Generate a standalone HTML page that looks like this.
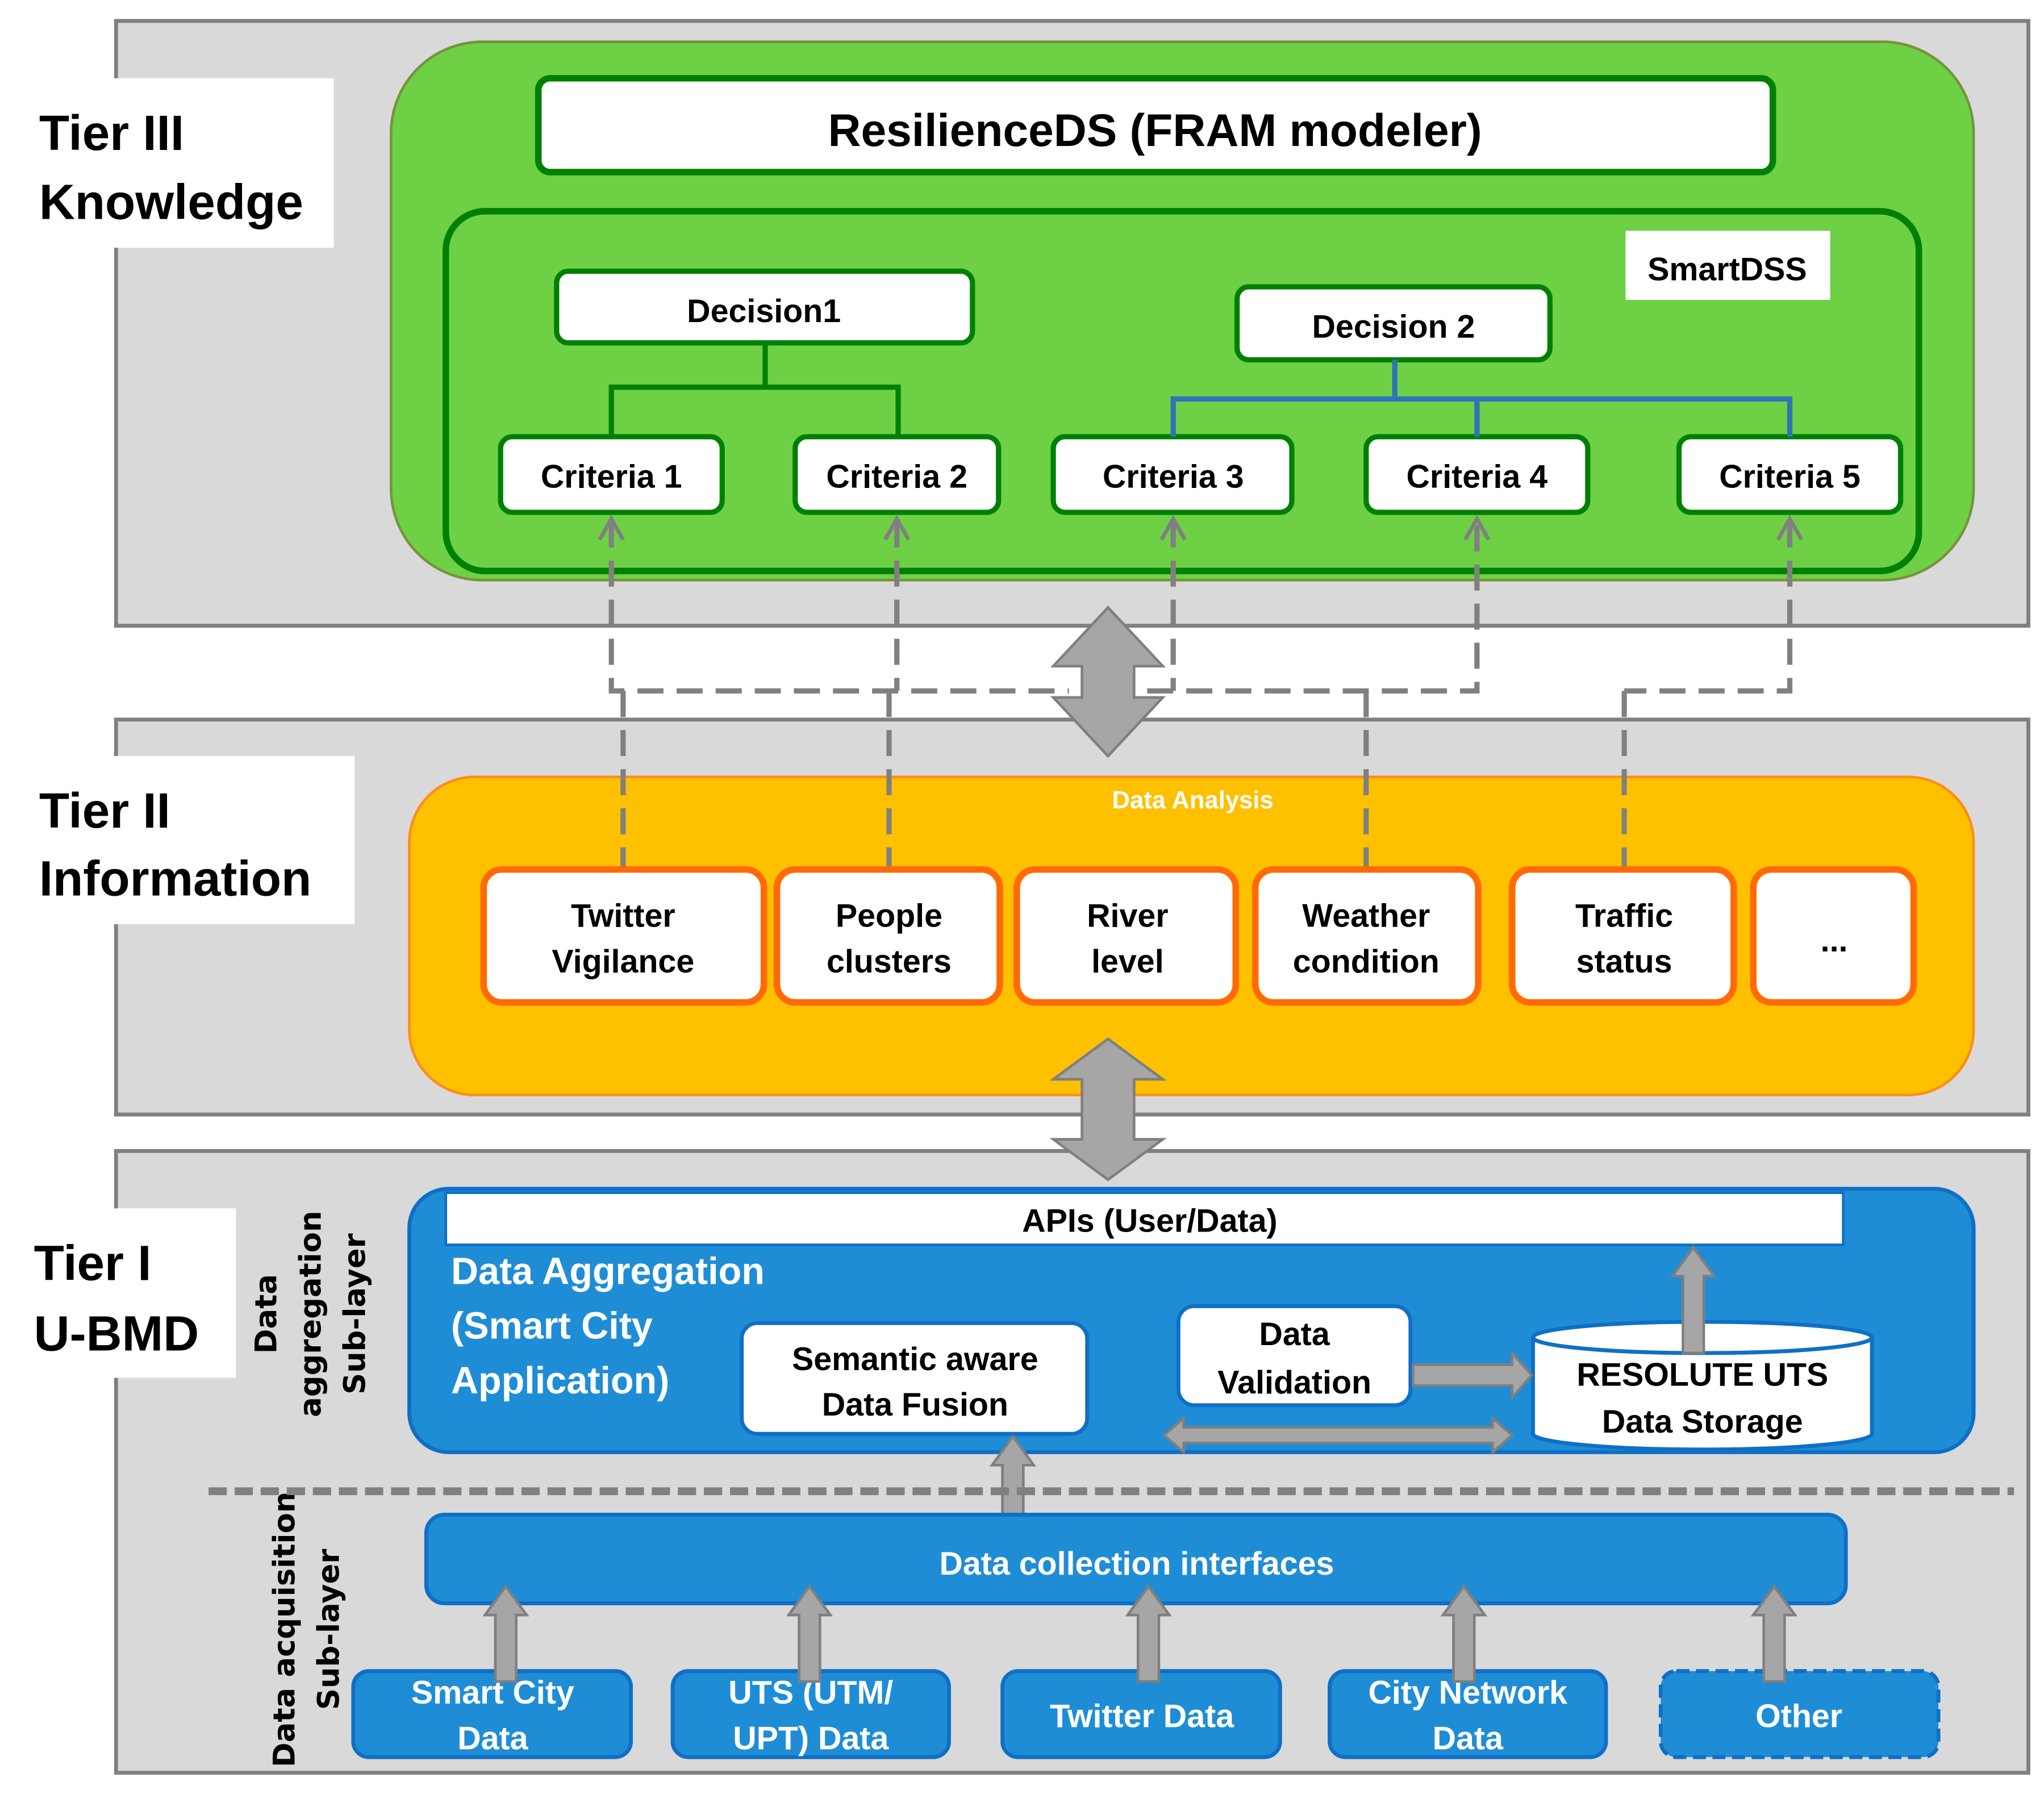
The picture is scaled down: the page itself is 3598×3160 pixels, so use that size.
<!DOCTYPE html>
<html><head><meta charset="utf-8"><style>html,body{margin:0;padding:0;background:#fff}svg{display:block}text{font-family:"Liberation Sans",sans-serif;font-weight:bold}</style></head><body>
<svg width="3598" height="3160" viewBox="0 0 1568 1377" xmlns="http://www.w3.org/2000/svg">
<rect x="89" y="16" width="1467" height="464" fill="#d9d9d9" stroke="#808080" stroke-width="3"/>
<rect x="89" y="552" width="1467" height="303" fill="#d9d9d9" stroke="#808080" stroke-width="3"/>
<rect x="89" y="883" width="1467" height="477" fill="#d9d9d9" stroke="#808080" stroke-width="3"/>
<rect x="18" y="60" width="238" height="130" fill="#fff"/>
<text x="30" y="115" font-size="38" fill="#000">Tier III</text>
<text x="30" y="168" font-size="38" fill="#000">Knowledge</text>
<rect x="18" y="580" width="254" height="129" fill="#fff"/>
<text x="30" y="635" font-size="38">Tier II</text>
<text x="30" y="687" font-size="38">Information</text>
<rect x="18" y="927" width="163" height="130" fill="#fff"/>
<text x="26" y="982" font-size="38">Tier I</text>
<text x="26" y="1036" font-size="38">U-BMD</text>
<rect x="300" y="32" width="1214" height="413" rx="70" fill="#6ed044" stroke="#77933c" stroke-width="2"/>
<rect x="413" y="60" width="947" height="72" rx="9" fill="#fff" stroke="#008000" stroke-width="5"/>
<text x="886" y="112" font-size="35" text-anchor="middle">ResilienceDS (FRAM modeler)</text>
<rect x="342" y="162" width="1130" height="276" rx="30" fill="#6ed044" stroke="#008000" stroke-width="5"/>
<rect x="1247" y="177" width="157" height="53" fill="#fff"/>
<text x="1325" y="215" font-size="25" text-anchor="middle">SmartDSS</text>
<g fill="#fff" stroke="#008000" stroke-width="4">
<rect x="427" y="208" width="319" height="55" rx="9"/>
<rect x="949" y="220" width="240" height="56" rx="9"/>
<rect x="384" y="335" width="170" height="58" rx="9"/>
<rect x="610" y="335" width="156" height="58" rx="9"/>
<rect x="808" y="335" width="183" height="58" rx="9"/>
<rect x="1048" y="335" width="170" height="58" rx="9"/>
<rect x="1288" y="335" width="170" height="58" rx="9"/>
</g>
<g font-size="25" text-anchor="middle">
<text x="586" y="247">Decision1</text>
<text x="1069" y="259">Decision 2</text>
<text x="469" y="374">Criteria 1</text>
<text x="688" y="374">Criteria 2</text>
<text x="900" y="374">Criteria 3</text>
<text x="1133" y="374">Criteria 4</text>
<text x="1373" y="374">Criteria 5</text>
</g>
<path d="M587 263V297M469 335V297H689V335" fill="none" stroke="#008000" stroke-width="4"/>
<path d="M1070 276V306M900 335V306H1373V335M1133 306V335" fill="none" stroke="#2e75b6" stroke-width="4"/>
<!-- Tier II -->
<rect x="314" y="596" width="1200" height="244" rx="50" fill="#ffc000" stroke="#ff8c1a" stroke-width="2"/>
<text x="915" y="620" font-size="19" fill="#fff" text-anchor="middle">Data Analysis</text>
<!-- dashed -->
<g fill="none" stroke="#808080" stroke-width="4" stroke-dasharray="20 10">
<path d="M469 400V530H820"/>
<path d="M688 400V530"/>
<path d="M880 530H1133V400"/>
<path d="M900 400V530"/>
<path d="M1373 400V530H1246"/>
<path d="M478 530V667M682 530V667M1048 530V667M1246 530V667"/>
</g>
<g fill="none" stroke="#808080" stroke-width="3">
<path d="M460 414L469 398L478 414M679 414L688 398L697 414M891 414L900 398L909 414M1124 414L1133 398L1142 414M1364 414L1373 398L1382 414"/>
</g>
<g fill="#fff" stroke="#ff6a00" stroke-width="5">
<rect x="371" y="667" width="215" height="102" rx="14"/>
<rect x="596" y="667" width="171" height="102" rx="14"/>
<rect x="780" y="667" width="168" height="102" rx="14"/>
<rect x="963" y="667" width="171" height="102" rx="14"/>
<rect x="1160" y="667" width="170" height="102" rx="14"/>
<rect x="1345" y="667" width="123" height="102" rx="14"/>
</g>
<g font-size="25" text-anchor="middle">
<text x="478" y="711">Twitter</text><text x="478" y="746">Vigilance</text>
<text x="682" y="711">People</text><text x="682" y="746">clusters</text>
<text x="865" y="711">River</text><text x="865" y="746">level</text>
<text x="1048" y="711">Weather</text><text x="1048" y="746">condition</text>
<text x="1246" y="711">Traffic</text><text x="1246" y="746">status</text>
<text x="1407" y="730">...</text>
</g>
<g fill="#a6a6a6" stroke="#7f7f7f" stroke-width="2">
<path d="M850 466L892 511H870V535H892L850 580L808 535H830V511H808Z"/>
<path d="M850 797L892 828H870V874H892L850 905L808 874H830V828H808Z"/>
</g>
<!-- Tier I -->
<g font-size="23" fill="#000">
<text transform="translate(212,1008) rotate(-90)" text-anchor="middle" style="font-family:'DejaVu Sans',sans-serif">Data</text>
<text transform="translate(246,1008) rotate(-90)" text-anchor="middle" style="font-family:'DejaVu Sans',sans-serif">aggregation</text>
<text transform="translate(280,1008) rotate(-90)" text-anchor="middle" style="font-family:'DejaVu Sans',sans-serif">Sub-layer</text>
<text transform="translate(226,1250) rotate(-90)" text-anchor="middle" style="font-family:'DejaVu Sans',sans-serif">Data acquisition</text>
<text transform="translate(260,1250) rotate(-90)" text-anchor="middle" style="font-family:'DejaVu Sans',sans-serif">Sub-layer</text>
</g>
<rect x="314" y="912" width="1200" height="202" rx="30" fill="#1f8dd6" stroke="#0f6fc6" stroke-width="3"/>
<rect x="342" y="915" width="1072" height="40" fill="#fff" stroke="#0f6fc6" stroke-width="2"/>
<text x="882" y="945" font-size="25" text-anchor="middle">APIs (User/Data)</text>
<g font-size="29" fill="#fff">
<text x="346" y="985">Data Aggregation</text>
<text x="346" y="1027">(Smart City</text>
<text x="346" y="1069">Application)</text>
</g>
<rect x="569" y="1015" width="265" height="85" rx="12" fill="#fff" stroke="#0f6fc6" stroke-width="3"/>
<text x="702" y="1051" font-size="25" text-anchor="middle">Semantic aware</text>
<text x="702" y="1086" font-size="25" text-anchor="middle">Data Fusion</text>
<rect x="904" y="1002" width="178" height="76" rx="12" fill="#fff" stroke="#0f6fc6" stroke-width="3"/>
<text x="993" y="1032" font-size="25" text-anchor="middle">Data</text>
<text x="993" y="1069" font-size="25" text-anchor="middle">Validation</text>
<path d="M1176 1026V1100A130 12 0 0 0 1436 1100V1026" fill="#fff" stroke="#0f6fc6" stroke-width="3"/>
<ellipse cx="1306" cy="1026" rx="130" ry="12" fill="#fff" stroke="#0f6fc6" stroke-width="3"/>
<text x="1306" y="1063" font-size="25" text-anchor="middle">RESOLUTE UTS</text>
<text x="1306" y="1099" font-size="25" text-anchor="middle">Data Storage</text>
<g fill="#a6a6a6" stroke="#7f7f7f" stroke-width="2">
<path d="M1084 1047H1160V1038L1175 1055L1160 1072V1063H1084Z"/>
<path d="M893 1101L908 1088V1095H1145V1088L1160 1101L1145 1114V1107H908V1114Z"/>
<path d="M1291 1038V979H1283L1299 957L1315 979H1307V1038Z"/>
<path d="M769 1165V1124H761L777 1102L793 1124H785V1165Z"/>
</g>
<path d="M160 1144H1545" stroke="#808080" stroke-width="6" stroke-dasharray="14 6"/>
<rect x="327" y="1162" width="1089" height="68" rx="14" fill="#1f8dd6" stroke="#0f6fc6" stroke-width="3"/>
<text x="872" y="1208" font-size="25" fill="#fff" text-anchor="middle">Data collection interfaces</text>
<g fill="#1f8dd6" stroke="#0f6fc6" stroke-width="3">
<rect x="271" y="1282" width="213" height="66" rx="12"/>
<rect x="516" y="1282" width="212" height="66" rx="12"/>
<rect x="769" y="1282" width="213" height="66" rx="12"/>
<rect x="1020" y="1282" width="212" height="66" rx="12"/>
<rect x="1274" y="1282" width="213" height="66" rx="12" stroke-dasharray="10 5"/>
</g>
<g font-size="25" fill="#fff" text-anchor="middle">
<text x="378" y="1307">Smart City</text><text x="378" y="1342">Data</text>
<text x="622" y="1307">UTS (UTM/</text><text x="622" y="1342">UPT) Data</text>
<text x="876" y="1325">Twitter Data</text>
<text x="1126" y="1307">City Network</text><text x="1126" y="1342">Data</text>
<text x="1380" y="1325">Other</text>
</g>
<g fill="#a6a6a6" stroke="#7f7f7f" stroke-width="2">
<path d="M380 1290V1239H372L388 1217L404 1239H396V1290Z"/>
<path d="M613 1290V1239H605L621 1217L637 1239H629V1290Z"/>
<path d="M873 1290V1239H865L881 1217L897 1239H889V1290Z"/>
<path d="M1115 1290V1239H1107L1123 1217L1139 1239H1131V1290Z"/>
<path d="M1353 1290V1239H1345L1361 1217L1377 1239H1369V1290Z"/>
</g>
</svg>
</body></html>
